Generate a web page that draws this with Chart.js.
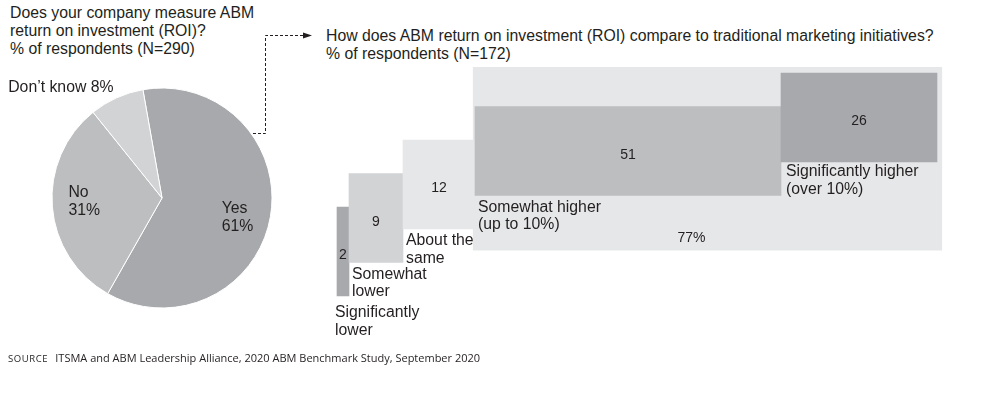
<!DOCTYPE html>
<html lang="en">
<head>
<meta charset="UTF-8">
<title>ABM ROI</title>
<script src="https://cdn.jsdelivr.net/npm/chart.js"></script>
<style>
  body {
    margin: 0;
    width: 986px;
    height: 396px;
    position: relative;
    overflow: hidden;
    background: #fff;
    font-family: "Liberation Sans", Arial, sans-serif;
    color: #231f20;
  }
  .title { position: absolute; font-size: 15.8px; line-height: 18px; white-space: nowrap; }
  #pieCanvas, #barCanvas, #link { position: absolute; }
  .source {
    position: absolute; left: 8px; top: 350px;
    font-family: "Open Sans", sans-serif; font-size: 11px; white-space: nowrap;
  }
  .source span { font-size: 9.5px; letter-spacing: 0.6px; margin-right: 7px; }
</style>
</head>
<body>
  <div class="title" style="left:10px; top:4px;">Does your company measure ABM<br>return on investment (ROI)?<br>% of respondents (N=290)</div>
  <div class="title" style="left:326px; top:27px;">How does ABM return on investment (ROI) compare to traditional marketing initiatives?<br>% of respondents (N=172)</div>

  <canvas id="pieCanvas" width="330" height="340" style="left:0; top:0;"></canvas>
  <canvas id="barCanvas" width="686" height="290" style="left:300px; top:60px;"></canvas>

  <!-- dashed link from pie to the second question -->
  <svg id="link" width="986" height="396" style="left:0; top:0; pointer-events:none;">
    <path d="M253 133.5 H265.5 V35.5 H303" fill="none" stroke="#231f20" stroke-width="1" stroke-dasharray="3 2"/>
    <polygon points="303,32.5 312,35.5 303,38.5" fill="#231f20"/>
  </svg>

  <div class="source"><span>SOURCE</span>ITSMA and ABM Leadership Alliance, 2020 ABM Benchmark Study, September 2020</div>

<script>
// ---- data ----
const pieLabels = ['Yes', 'No', 'Don\u2019t know'];
const pieValues = [61, 31, 8];

const roiCategories = [
  ['Significantly', 'lower'],
  ['Somewhat', 'lower'],
  ['About the', 'same'],
  ['Somewhat higher', '(up to 10%)'],
  ['Significantly higher', '(over 10%)']
];
const roiValues = [2, 9, 12, 51, 26];
const higherIdx = [3, 4];   // the categories summed in the "77%" box

// ---- styles / layout tweaks ----
const textColor = '#231f20';
const pieColors = ['#a7a9ac', '#bcbec0', '#d1d3d4'];
const barColors = ['#a7a9ac', '#d1d3d4', '#e6e7e8', '#bcbec0', '#a7a9ac'];
const boxColor = '#e6e7e8';
const font = '"Liberation Sans", Arial, sans-serif';
const pieNudge = [[0, 7], [-5, -2], [0, 0]];
const catNudge = [[-5, 5], [0, 0], [0, 0], [0, 0], [2, -2]];

// ---- pie ----
const pieLabelPlugin = {
  id: 'pieLabels',
  afterDatasetsDraw(chart) {
    const ctx = chart.ctx;
    const arcs = chart.getDatasetMeta(0).data;
    ctx.save();
    ctx.fillStyle = textColor;
    ctx.font = '15.8px ' + font;
    ctx.textBaseline = 'middle';
    arcs.forEach((arc, i) => {
      const p = arc.getProps(['x', 'y', 'startAngle', 'endAngle', 'outerRadius'], true);
      const mid = (p.startAngle + p.endAngle) / 2;
      if (i < 2) {
        const px = p.x + Math.cos(mid) * p.outerRadius * 0.68 - 14 + pieNudge[i][0];
        const py = p.y + Math.sin(mid) * p.outerRadius * 0.68 + pieNudge[i][1];
        ctx.textAlign = 'left';
        ctx.fillText(pieLabels[i], px, py - 9);
        ctx.fillText(pieValues[i] + '%', px, py + 9);
      } else {
        // outside label
        const ox = p.x + Math.cos(mid) * p.outerRadius;
        const oy = p.y + Math.sin(mid) * p.outerRadius;
        ctx.textAlign = 'right';
        ctx.fillText(pieLabels[i] + ' ' + pieValues[i] + '%', ox - 3, oy - 10);
      }
    });
    ctx.restore();
  }
};

new Chart(document.getElementById('pieCanvas'), {
  type: 'pie',
  data: {
    labels: pieLabels,
    datasets: [{
      data: pieValues,
      backgroundColor: pieColors,
      borderColor: '#ffffff',
      borderWidth: 1,
      radius: 110
    }]
  },
  options: {
    responsive: false,
    animation: false,
    rotation: -10,
    layout: { padding: { left: 52, right: 58, top: 88, bottom: 32 } },
    plugins: { legend: { display: false }, tooltip: { enabled: false } }
  },
  plugins: [pieLabelPlugin]
});

// ---- stepped bars ----
const starts = [];
roiValues.reduce((acc, v) => { starts.push(acc); return acc + v; }, 0);
const stepData = roiValues.map((v, i) => ({ x: [starts[i], starts[i] + v], y: i }));

const higherTotal = higherIdx.reduce((s, i) => s + roiValues[i], 0);
const boxStart = starts[higherIdx[0]];
const boxEnd = boxStart + higherTotal;
const boxData = [{ x: [boxStart - 0.3, boxEnd + 0.8], y: 2.77 }];

const barLabelPlugin = {
  id: 'barLabels',
  afterDatasetsDraw(chart) {
    const ctx = chart.ctx;
    ctx.save();
    ctx.fillStyle = textColor;
    ctx.textBaseline = 'middle';

    chart.getDatasetMeta(0).data.forEach((bar, i) => {
      const p = bar.getProps(['x', 'y', 'base', 'height'], true);
      ctx.font = '14px ' + font;
      ctx.textAlign = 'center';
      ctx.fillText(String(roiValues[i]), (p.x + p.base) / 2, p.y + 4);

      ctx.font = '15.8px ' + font;
      ctx.textAlign = 'left';
      const left = p.base + 3 + catNudge[i][0];
      const top = p.y + p.height / 2 + 12 + catNudge[i][1];
      roiCategories[i].forEach((line, k) => ctx.fillText(line, left, top + k * 17.5));
    });

    const box = chart.getDatasetMeta(1).data[0];
    const b = box.getProps(['x', 'y', 'base', 'height'], true);
    ctx.font = '14px ' + font;
    ctx.textAlign = 'center';
    ctx.fillText(higherTotal + '%', (b.x + b.base) / 2 - 16, b.y + b.height / 2 - 12);
    ctx.restore();
  }
};

new Chart(document.getElementById('barCanvas'), {
  type: 'bar',
  data: {
    datasets: [
      {
        data: stepData,
        backgroundColor: barColors,
        barThickness: 89,
        stack: 'roi',
        order: 1,
        clip: false
      },
      {
        data: boxData,
        backgroundColor: boxColor,
        barThickness: 183,
        stack: 'roi',
        order: 2,
        clip: false
      }
    ]
  },
  options: {
    indexAxis: 'y',
    responsive: false,
    animation: false,
    layout: { padding: { left: 37, right: 49, top: 24, bottom: 31.5 } },
    scales: {
      x: { type: 'linear', min: 0, max: 100, display: false, stacked: false, offset: false },
      y: { type: 'linear', min: -2, max: 5, display: false, offset: false }
    },
    plugins: { legend: { display: false }, tooltip: { enabled: false } }
  },
  plugins: [barLabelPlugin]
});
</script>
</body>
</html>
